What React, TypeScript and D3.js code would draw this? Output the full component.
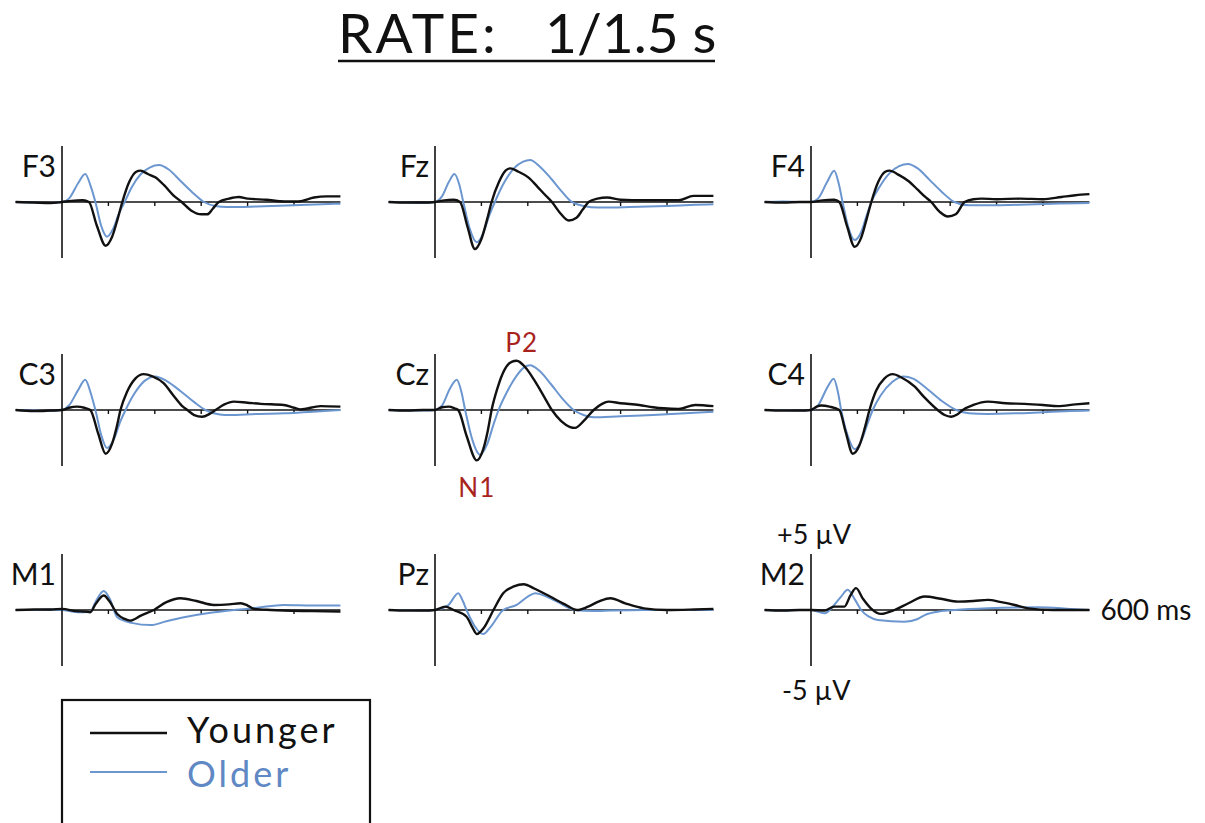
import { useEffect, useRef } from "react";
import * as d3 from "d3";

type Pt = [number, number]; // [ms, µV]

const electrodes = ["F3", "Fz", "F4", "C3", "Cz", "C4", "M1", "Pz", "M2"];
const groups = ["Younger", "Older"];
const timeTicks = [100, 200, 300, 400, 500];

const f3Younger: Pt[] = [[-100,0],[-60,-0.05],[-25,-0.1],[0,0],[20,0.1],[45,0.15],[58,0],[75,-2.1],[94,-3.9],[108,-3.1],[120,-1.5],[130,0],[145,1.8],[160,2.7],[169,2.8],[185,2.5],[201,2.2],[220,1.5],[240,0.6],[258,0],[280,-0.8],[300,-1.1],[313,-1.1],[325,-0.6],[338,0],[360,0.3],[381,0.45],[400,0.3],[440,0.2],[480,0.05],[510,0.05],[543,0.4],[570,0.5],[600,0.5]];
const f3Older: Pt[] = [[-100,0],[-60,-0.05],[-25,-0.1],[0,0],[15,0.3],[35,1.7],[50,2.5],[62,1.4],[72,0],[85,-2.2],[97,-3.1],[110,-2.4],[123,-1],[135,0],[150,1.3],[170,2.5],[190,3.1],[209,3.3],[230,2.9],[255,1.9],[280,0.9],[306,0],[330,-0.35],[356,-0.45],[420,-0.4],[500,-0.3],[560,-0.2],[600,-0.15]];

const fzYounger: Pt[] = [[-100,0],[-60,-0.05],[-25,-0.05],[0,0],[20,0.15],[40,0.2],[54,0],[70,-2.2],[86,-4.2],[100,-3.3],[112,-1.6],[122,0],[138,1.8],[152,2.8],[162,3.0],[180,2.7],[201,2.2],[220,1.4],[238,0.6],[252,0],[270,-1.0],[288,-1.65],[305,-1.4],[318,-0.7],[331,0],[350,0.3],[371,0.4],[400,0.2],[450,0.15],[500,0.15],[525,0.15],[557,0.55],[600,0.55]];
const fzOlder: Pt[] = [[-100,0],[-60,-0.05],[-25,-0.1],[0,0],[15,0.5],[30,1.8],[42,2.5],[52,1.6],[61,0],[75,-2.4],[90,-3.6],[104,-2.8],[117,-1.2],[129,0],[150,1.8],[170,3.0],[190,3.6],[205,3.75],[225,3.2],[250,2.1],[272,1.0],[295,0],[320,-0.35],[352,-0.5],[420,-0.45],[500,-0.35],[560,-0.25],[600,-0.2]];

const f4Younger: Pt[] = [[-100,0],[-60,-0.05],[-25,0],[0,0],[25,0.15],[50,0.2],[61,0],[78,-2.2],[94,-4.0],[108,-3.2],[120,-1.5],[130,0],[145,1.8],[160,2.7],[169,2.8],[190,2.4],[209,1.9],[230,1.1],[245,0.5],[259,0],[278,-0.9],[295,-1.3],[312,-1.1],[331,0],[350,0.25],[367,0.3],[400,0.25],[450,0.3],[500,0.25],[540,0.45],[570,0.6],[600,0.7]];
const f4Older: Pt[] = [[-100,0],[-60,0.05],[-25,0],[0,0],[15,0.3],[35,1.8],[50,2.8],[60,1.6],[68,0],[80,-2.2],[94,-3.4],[108,-2.7],[120,-1.2],[130,0],[150,1.5],[170,2.6],[190,3.2],[209,3.4],[230,3.0],[255,2.0],[282,0.9],[309,0],[340,-0.3],[380,-0.3],[450,-0.25],[520,-0.15],[600,-0.1]];

const c3Younger: Pt[] = [[-100,0],[-60,-0.1],[-25,-0.05],[0,0],[15,0.2],[32,0.3],[48,0.2],[61,0],[78,-2.1],[94,-3.9],[108,-3.0],[118,-1.5],[126,0],[140,1.6],[158,2.8],[176,3.2],[195,3.0],[219,2.4],[240,1.3],[258,0.4],[270,0],[285,-0.45],[302,-0.6],[318,-0.35],[331,0],[350,0.5],[370,0.75],[400,0.65],[428,0.55],[478,0.45],[500,0.2],[514,0.05],[557,0.35],[600,0.3]];
const c3Older: Pt[] = [[-100,0],[-60,-0.05],[-25,-0.1],[0,0],[15,0.4],[35,1.8],[50,2.7],[62,1.5],[72,0],[85,-2.3],[97,-3.4],[112,-2.6],[126,-1.0],[137,0],[155,1.4],[178,2.6],[201,3.0],[225,2.6],[255,1.7],[285,0.7],[309,0],[340,-0.4],[360,-0.45],[420,-0.35],[480,-0.3],[540,-0.15],[600,0]];

const czYounger: Pt[] = [[-100,0],[-60,-0.05],[-25,0],[0,0],[15,0.25],[30,0.3],[42,0.15],[50,0],[68,-2.3],[90,-4.5],[104,-3.5],[114,-1.8],[122,0],[135,2.0],[150,3.6],[165,4.3],[176,4.4],[195,3.8],[215,2.6],[235,1.2],[252,0],[272,-1.0],[290,-1.5],[302,-1.6],[320,-1.0],[342,0],[360,0.55],[374,0.75],[400,0.6],[440,0.45],[470,0.25],[493,0.15],[525,0.1],[561,0.45],[600,0.35]];
const czOlder: Pt[] = [[-100,0],[-60,-0.05],[-25,-0.05],[0,0],[15,0.4],[32,1.9],[47,2.7],[57,1.6],[65,0],[80,-2.6],[97,-4.0],[112,-3.1],[126,-1.3],[137,0],[155,1.6],[175,3.0],[192,3.8],[205,4.0],[225,3.5],[250,2.3],[275,1.0],[299,0],[320,-0.45],[342,-0.65],[400,-0.55],[470,-0.45],[540,-0.3],[600,-0.15]];

const c4Younger: Pt[] = [[-100,0],[-60,-0.05],[-25,-0.05],[0,0],[12,0.3],[22,0.4],[40,0.3],[61,0],[75,-2.0],[90,-3.9],[104,-3.2],[116,-1.6],[126,0],[140,1.7],[158,2.8],[176,3.2],[195,2.9],[223,2.1],[245,1.1],[273,0],[288,-0.45],[302,-0.6],[315,-0.4],[327,0],[350,0.45],[381,0.75],[420,0.6],[460,0.55],[500,0.45],[532,0.35],[570,0.5],[600,0.6]];
const c4Older: Pt[] = [[-100,0],[-60,0],[-25,-0.05],[0,0],[15,0.4],[35,2.0],[49,2.8],[58,1.6],[65,0],[80,-2.4],[94,-3.5],[108,-2.8],[122,-1.2],[133,0],[150,1.3],[175,2.5],[200,3.0],[220,2.8],[250,1.9],[282,0.8],[313,0],[340,-0.3],[380,-0.35],[440,-0.3],[500,-0.2],[560,-0.1],[600,-0.05]];

const m1Younger: Pt[] = [[-100,0],[-60,0.05],[-25,0.05],[0,0.1],[30,-0.1],[50,-0.15],[61,-0.2],[72,0.5],[90,1.3],[102,0.8],[119,-0.35],[135,-0.8],[147,-0.95],[170,-0.5],[198,0],[225,0.7],[255,1.05],[290,0.8],[327,0.45],[360,0.5],[385,0.6],[400,0.4],[414,0.1],[450,0],[478,-0.05],[540,-0.1],[600,-0.15]];
const m1Older: Pt[] = [[-100,0],[-60,0],[-25,0.05],[0,0],[36,-0.2],[61,-0.15],[72,0.7],[90,1.7],[103,1.0],[119,-0.65],[150,-1.15],[191,-1.35],[225,-1.0],[263,-0.65],[320,-0.25],[371,0],[420,0.2],[478,0.45],[540,0.4],[600,0.4]];

const pzYounger: Pt[] = [[-100,0],[-60,-0.05],[-25,-0.05],[0,0],[22,0.3],[40,0],[68,-0.6],[80,-1.5],[90,-2.15],[105,-1.6],[126,0],[147,1.5],[170,2.1],[191,2.3],[215,1.9],[248,1.2],[280,0.5],[306,0],[330,0.3],[355,0.8],[378,1.05],[410,0.6],[450,0.15],[500,0],[560,0.05],[600,0.1]];
const pzOlder: Pt[] = [[-100,0],[-60,0],[-25,-0.05],[0,0],[29,0.45],[50,1.5],[60,0.8],[68,0],[85,-1.4],[104,-2.15],[120,-1.5],[147,0],[176,0.45],[200,1.2],[216,1.5],[240,1.2],[263,0.75],[302,0],[340,-0.1],[380,-0.05],[450,0],[600,0]];

const m2Younger: Pt[] = [[-100,0],[-60,-0.05],[-25,0],[0,0],[30,-0.05],[50,0.3],[72,0.3],[85,1.3],[97,1.95],[112,1.0],[129,0.15],[151,-0.35],[180,0],[210,0.6],[245,1.2],[280,1.0],[317,0.75],[350,0.8],[381,0.9],[410,0.7],[439,0.45],[468,0.15],[520,0],[600,0]];
const m2Older: Pt[] = [[-100,0],[-60,-0.05],[-25,0],[0,0],[29,-0.3],[50,0.45],[65,1.2],[79,1.8],[95,0.9],[108,0],[125,-0.6],[144,-0.9],[201,-1.05],[230,-0.8],[245,-0.45],[280,-0.1],[310,0],[381,0.15],[490,0.25],[560,0.1],[600,0]];

const waves: Record<string, Pt[][]> = {
  F3: [f3Younger, f3Older],
  Fz: [fzYounger, fzOlder],
  F4: [f4Younger, f4Older],
  C3: [c3Younger, c3Older],
  Cz: [czYounger, czOlder],
  C4: [c4Younger, c4Older],
  M1: [m1Younger, m1Older],
  Pz: [pzYounger, pzOlder],
  M2: [m2Younger, m2Older],
};

const W = 1205;
const H = 823;
const FONT = "Lato, 'Open Sans', sans-serif";
const colors = ["#111111", "#6b96cf"];
const widths = [2.4, 2];
const red = "#a8231c";

// panel origins (x at 0 ms, y at 0 µV)
const colX = [62, 435, 811];
const rowY = [202, 410, 610];

const App = () => {
  const svgRef = useRef<SVGSVGElement | null>(null);

  useEffect(() => {
    if (!svgRef.current) return;
    const svg = d3.select(svgRef.current);
    svg.selectAll("*").remove();

    // title
    svg.append("text").attr("x", 338).attr("y", 53).attr("font-size", 55)
      .attr("letter-spacing", 3).attr("font-family", FONT).attr("fill", "#111").text("RATE:");
    svg.append("text").attr("x", 545).attr("y", 53).attr("font-size", 55)
      .attr("font-family", FONT).attr("fill", "#111").text("1/1.5 s");
    svg.append("line").attr("x1", 338).attr("x2", 715).attr("y1", 61).attr("y2", 61)
      .attr("stroke", "#111").attr("stroke-width", 2.5);

    electrodes.forEach((name, i) => {
      const ox = colX[i % 3];
      const oy = rowY[Math.floor(i / 3)];
      const x = d3.scaleLinear().domain([0, 100]).range([ox, ox + 46.4]);
      const y = d3.scaleLinear().domain([0, 5]).range([oy, oy - 56]);
      const g = svg.append("g");

      // x axis
      g.append("line").attr("x1", x(-100)).attr("x2", x(600)).attr("y1", y(0)).attr("y2", y(0))
        .attr("stroke", "#111").attr("stroke-width", 1.4);
      g.selectAll("line.tick").data(timeTicks).enter().append("line")
        .attr("class", "tick")
        .attr("x1", (d) => x(d)).attr("x2", (d) => x(d))
        .attr("y1", y(0)).attr("y2", y(0) + 4)
        .attr("stroke", "#111").attr("stroke-width", 1.4);

      const line = d3.line<Pt>().x((d) => x(d[0])).y((d) => y(d[1])).curve(d3.curveMonotoneX);
      [1, 0].forEach((k) => {
        g.append("path").attr("d", line(waves[name][k]) || "")
          .attr("fill", "none").attr("stroke", colors[k]).attr("stroke-width", widths[k])
          .attr("stroke-linejoin", "round");
      });

      // y axis
      g.append("line").attr("x1", x(0)).attr("x2", x(0)).attr("y1", y(5)).attr("y2", y(-5))
        .attr("stroke", "#111").attr("stroke-width", 1.6);

      g.append("text").attr("x", x(0) - 6).attr("y", y(0) - 25)
        .attr("text-anchor", "end").attr("font-size", 30).attr("font-family", FONT)
        .attr("fill", "#111").text(name);

      if (name === "Cz") {
        g.append("text").attr("x", x(90)).attr("y", y(-4.5) + 37).attr("text-anchor", "middle")
          .attr("font-size", 26).attr("letter-spacing", 1).attr("font-family", FONT).attr("fill", red).text("N1");
        g.append("text").attr("x", x(176) + 5).attr("y", y(4.4) - 9).attr("text-anchor", "middle")
          .attr("font-size", 26).attr("letter-spacing", 1).attr("font-family", FONT).attr("fill", red).text("P2");
      }
      if (name === "M2") {
        g.append("text").attr("x", x(0) - 34).attr("y", y(5) - 10)
          .attr("font-size", 27).attr("font-family", FONT).attr("fill", "#111").text("+5 µV");
        g.append("text").attr("x", x(0) - 29).attr("y", y(-5) + 34)
          .attr("font-size", 27).attr("font-family", FONT).attr("fill", "#111").text("-5 µV");
        g.append("text").attr("x", x(600) + 11).attr("y", y(0) + 10)
          .attr("font-size", 28).attr("font-family", FONT).attr("fill", "#111").text("600 ms");
      }
    });

    // legend
    const lg = svg.append("g");
    lg.append("rect").attr("x", 62).attr("y", 700).attr("width", 308).attr("height", 140)
      .attr("fill", "none").attr("stroke", "#111").attr("stroke-width", 2.2);
    groups.forEach((gname, k) => {
      const ly = 733 + k * 39;
      lg.append("line").attr("x1", 90).attr("x2", 167).attr("y1", ly).attr("y2", ly)
        .attr("stroke", colors[k]).attr("stroke-width", widths[k]);
      lg.append("text").attr("x", 187).attr("y", k === 0 ? 743 : 787).attr("font-size", 36)
        .attr("letter-spacing", 3).attr("font-family", FONT)
        .attr("fill", k === 0 ? "#111" : "#5f88c4").text(gname);
    });
  }, []);

  return (
    <svg
      ref={svgRef}
      width={W}
      height={H}
      style={{ position: "absolute", left: 0, top: 0, display: "block", background: "#fff" }}
    />
  );
};

export default App;
